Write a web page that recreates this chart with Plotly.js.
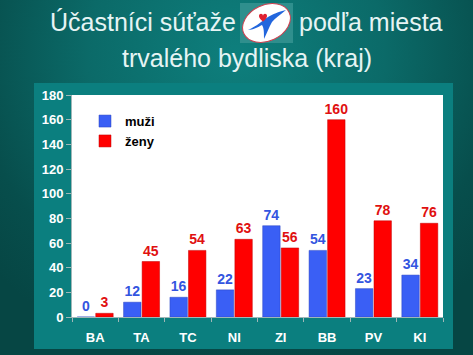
<!DOCTYPE html>
<html>
<head>
<meta charset="utf-8">
<script src="https://cdn.plot.ly/plotly-3.0.1.min.js"></script>
<style>
  html, body { margin: 0; padding: 0; }
  body {
    width: 473px; height: 355px; overflow: hidden; position: relative;
    background: radial-gradient(ellipse 70% 90% at 50% 15%, #0e7f7d 0%, #0b6a68 45%, #074e4c 80%, #064644 100%);
    font-family: "Liberation Sans", Arial, sans-serif;
  }
  #frame { position: absolute; left: 34px; top: 83px; width: 419px; height: 266px; background: #0b7f7f; }
  #chart { position: absolute; left: 0; top: 0; width: 473px; height: 355px; }
  #logo { position: absolute; left: 240px; top: 3px; width: 53px; height: 40px; }
</style>
</head>
<body>
<div id="frame"></div>
<svg id="logo" viewBox="0 0 53 40" xmlns="http://www.w3.org/2000/svg">
  <rect x="0" y="0" width="53" height="40" fill="#2f8f8d"/>
  <ellipse cx="26.5" cy="20" rx="25" ry="18" fill="#ffffff" stroke="#d04050" stroke-width="1" transform="rotate(-25 26.5 20)"/>
  <path d="M8 27 C17 23 22 18 28 14 C33 11 38 9 46 7 C40 12 35 15 32 19 C29 24 27 30 24 36 C24 29 24 25 22 22 C18 24 13 27 8 27 Z" fill="#2266dd"/>
  <path d="M19 13 C19 10 23 10 23 13 C23 10 27 10 27 13 C27 16 23 18 23 19 C23 18 19 16 19 13 Z" fill="#e02030"/>
</svg>
<div id="chart"></div>
<script>
var categories = ["BA", "TA", "TC", "NI", "ZI", "BB", "PV", "KI"];
var muzi = [0, 12, 16, 22, 74, 54, 23, 34];
var zeny = [3, 45, 54, 63, 56, 160, 78, 76];
var seriesNames = ["muži", "ženy"];
var yTicks = [0, 20, 40, 60, 80, 100, 120, 140, 160, 180];

var FONT = "Liberation Sans, Arial, sans-serif";

var traces = [
  {
    type: "bar", name: seriesNames[0], x: categories, y: muzi,
    marker: { color: "#3a5ff5", line: { color: "#2a45c0", width: 0.5 } },
    text: muzi.map(String), textposition: "outside", cliponaxis: false, constraintext: "none",
    textfont: { family: FONT, size: 14, color: "#3355e0", weight: "bold" }
  },
  {
    type: "bar", name: seriesNames[1], x: categories, y: zeny,
    marker: { color: "#ff0000", line: { color: "#c00000", width: 0.5 } },
    text: zeny.map(String), textposition: "outside", cliponaxis: false, constraintext: "none",
    textfont: { family: FONT, size: 14, color: "#e01010", weight: "bold" }
  }
];

var layout = {
  width: 473, height: 355,
  margin: { l: 72, r: 30, t: 95, b: 38, pad: 0 },
  paper_bgcolor: "rgba(0,0,0,0)",
  plot_bgcolor: "#ffffff",
  barmode: "group",
  bargap: 0.2,
  bargroupgap: 0.06,
  showlegend: true,
  legend: {
    x: 0.035, y: 0.95, xanchor: "left", yanchor: "top",
    bgcolor: "rgba(255,255,255,0)",
    font: { family: FONT, size: 13, color: "#000000", weight: "bold" },
    itemwidth: 30, tracegroupgap: 0
  },
  xaxis: {
    type: "category",
    tickfont: { family: FONT, size: 13, color: "#ffffff", weight: "bold" },
    ticks: "outside", tickson: "boundaries", ticklen: 4, tickcolor: "#9fb7b7",
    ticklabelstandoff: 8,
    showline: true, linecolor: "#9fb7b7", linewidth: 1,
    showgrid: false, fixedrange: true
  },
  yaxis: {
    range: [0, 180], tickvals: yTicks, ticktext: yTicks.map(String),
    tickfont: { family: FONT, size: 13, color: "#ffffff", weight: "bold" },
    ticks: "outside", ticklen: 5, tickcolor: "#9fb7b7",
    showline: true, linecolor: "#9fb7b7", linewidth: 1,
    showgrid: false, zeroline: false, fixedrange: true
  },
  annotations: [
    { xref: "paper", yref: "paper", x: (238 - 72) / 371, y: (317 - 22) / 222, xanchor: "right", yanchor: "middle",
      text: "Účastníci súťaže", showarrow: false,
      font: { family: FONT, size: 25, color: "#e6f4f4" } },
    { xref: "paper", yref: "paper", x: (297 - 72) / 371, y: (317 - 22) / 222, xanchor: "left", yanchor: "middle",
      text: "podľa miesta", showarrow: false,
      font: { family: FONT, size: 25, color: "#e6f4f4" } },
    { xref: "paper", yref: "paper", x: (247 - 72) / 371, y: (317 - 58) / 222, xanchor: "center", yanchor: "middle",
      text: "trvalého bydliska (kraj)", showarrow: false,
      font: { family: FONT, size: 25, color: "#e6f4f4" } }
  ]
};

Plotly.newPlot("chart", traces, layout, { displayModeBar: false, staticPlot: true });
</script>
</body>
</html>
